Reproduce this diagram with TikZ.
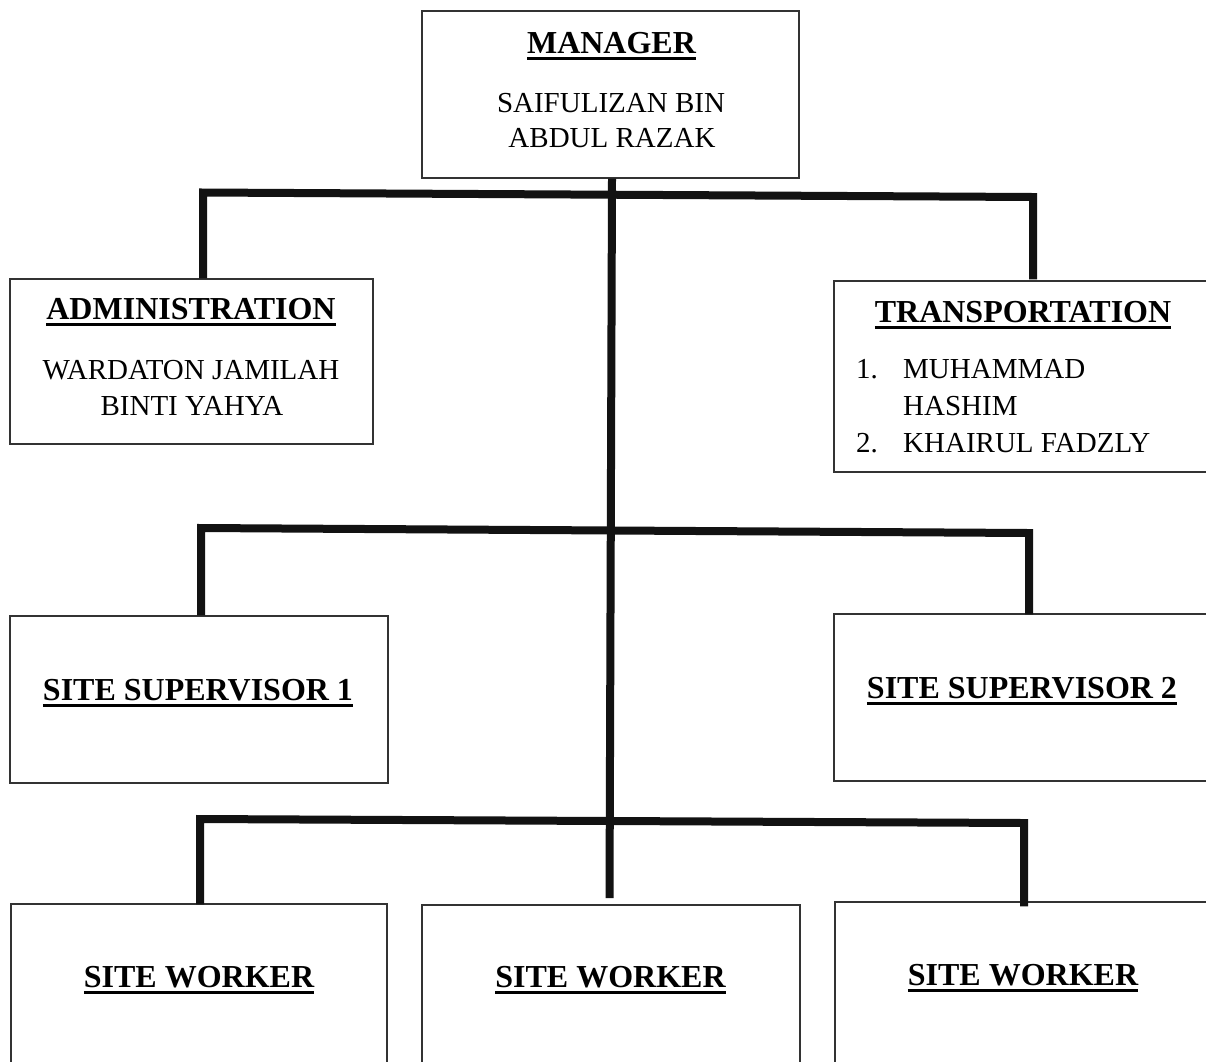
\documentclass[tikz,border=0pt]{standalone}
\usepackage{fontspec}
\setmainfont{Liberation Serif}
\newcommand\myul[1]{\setbox0\hbox{#1}\leavevmode\rlap{\rule[-6.6pt]{\wd0}{2.8pt}}\box0}
\newcommand\hd[1]{\fontsize{32}{36}\selectfont\bfseries\myul{#1}}
\begin{document}
\begin{tikzpicture}[x=1pt,y=-1pt,
  box/.style={draw=black!80,line width=1.1pt,fill=white,inner sep=0pt,rectangle},
  conn/.style={line width=8pt,draw=black!93,line join=miter},
  head/.style={anchor=base,inner sep=0pt,font=\fontsize{32}{36}\selectfont\bfseries},
  body/.style={anchor=base,inner sep=0pt,font=\fontsize{29}{34}\selectfont},
  bodyl/.style={anchor=base west,inner sep=0pt,font=\fontsize{29}{34}\selectfont}]
\useasboundingbox (0,0) rectangle (1206,1061);
\clip (0,0) rectangle (1206,1061);
\fill[white] (0,0) rectangle (1206,1061);
% boxes
\node[box,minimum width=377pt,minimum height=167pt] (mgr) at (610.5,94.5) {};
\node[box,minimum width=363pt,minimum height=165pt] (adm) at (191.5,361.5) {};
\node[box,minimum width=376pt,minimum height=191pt] (trn) at (1022,376.5) {};
\node[box,minimum width=378pt,minimum height=167pt] (ss1) at (199,699.5) {};
\node[box,minimum width=376pt,minimum height=167pt] (ss2) at (1022,697.5) {};
\node[box,minimum width=376pt,minimum height=170pt] (sw1) at (199,989) {};
\node[box,minimum width=378pt,minimum height=170pt] (sw2) at (611,990) {};
\node[box,minimum width=376pt,minimum height=172pt] (sw3) at (1023,988) {};
% connectors
\coordinate (b1l) at (203,192.5);
\coordinate (b1r) at (1033,197);
\coordinate (b2l) at (201,528);
\coordinate (b2r) at (1029,533);
\coordinate (b3l) at (200,819);
\coordinate (b3r) at (1024,823);
\coordinate (tend) at (609.5,898);
\draw[conn] (mgr.south -| 612,0) -- (tend);
\draw[conn] (adm.north -| b1l) -- (b1l) -- (b1r) -- ([yshift=1pt]trn.north -| b1r);
\draw[conn] (ss1.north -| b2l) -- (b2l) -- (b2r) -- ([yshift=-1pt]ss2.north -| b2r);
\draw[conn] ([yshift=-1pt]sw1.north -| b3l) -- (b3l) -- (b3r) -- ([yshift=-5pt]sw3.north -| b3r);
% texts
\node[head] (tmgr) at (611.5,53) {\myul{MANAGER}};
\node[body] (n1) at (611,112) {SAIFULIZAN BIN};
\node[body] (n2) at (612,147) {ABDUL RAZAK};
\node[head] (tadm) at (191,319) {\myul{ADMINISTRATION}};
\node[body] (a1) at (191,379) {WARDATON JAMILAH};
\node[body] (a2) at (192,415) {BINTI YAHYA};
\node[head] (ttrn) at (1023,322) {\myul{TRANSPORTATION}};
\node[bodyl] (t1n) at (856,378) {1.};
\node[bodyl] (t1) at (903,378) {MUHAMMAD};
\node[bodyl] (t1b) at (903,415) {HASHIM};
\node[bodyl] (t2n) at (856,452) {2.};
\node[bodyl] (t2) at (903,452) {KHAIRUL FADZLY};
\node[head] (tss1) at (198,700) {\myul{SITE SUPERVISOR 1}};
\node[head] (tss2) at (1022,698) {\myul{SITE SUPERVISOR 2}};
\node[head] (tsw1) at (199,987) {\myul{SITE WORKER}};
\node[head] (tsw2) at (610.5,987) {\myul{SITE WORKER}};
\node[head] (tsw3) at (1023,985) {\myul{SITE WORKER}};
\end{tikzpicture}
\end{document}
